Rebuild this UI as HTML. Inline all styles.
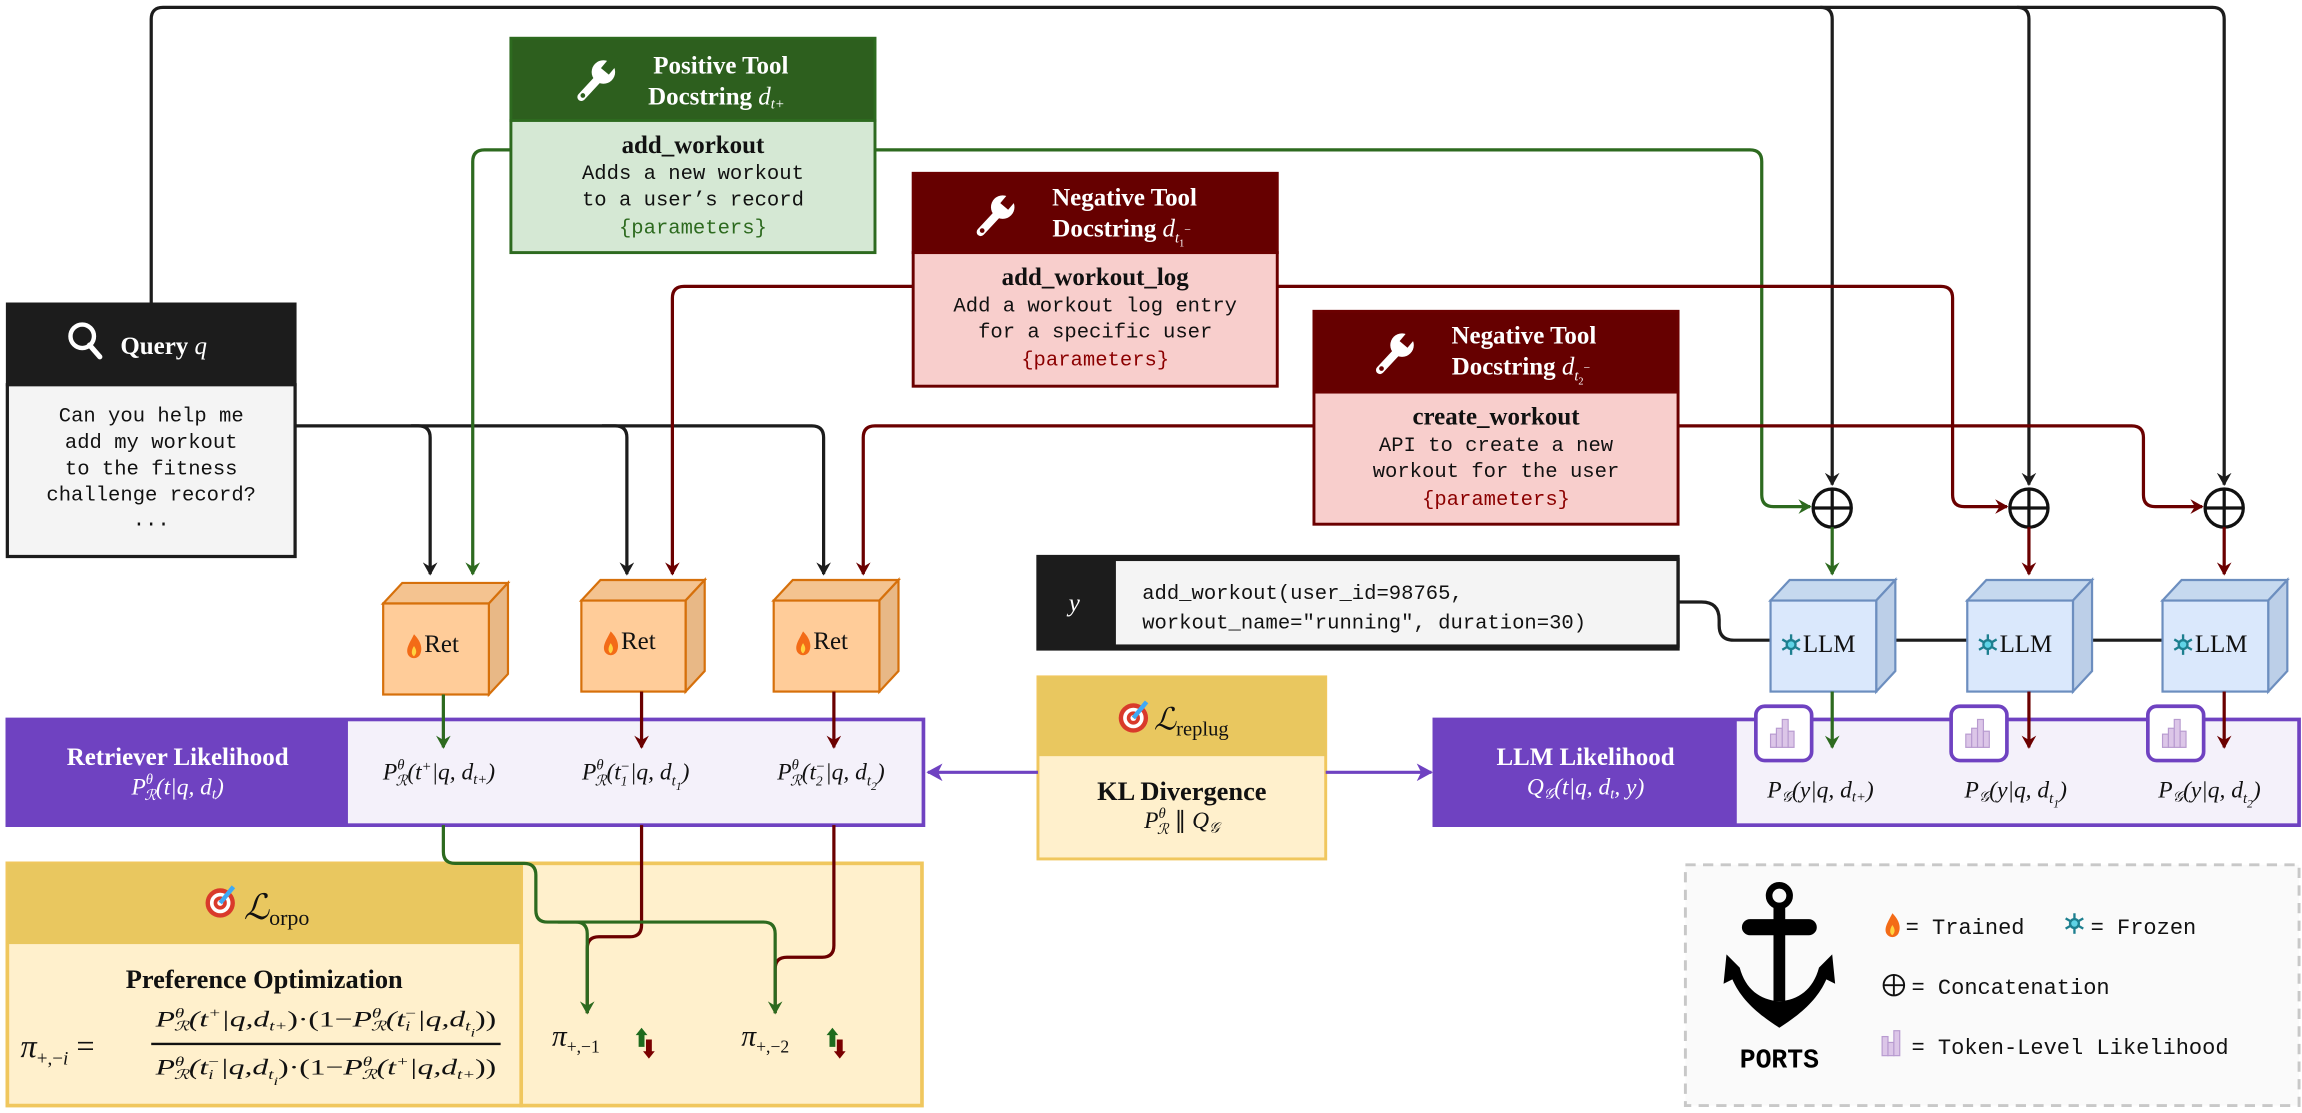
<!DOCTYPE html>
<html><head><meta charset="utf-8"><style>
html,body{margin:0;padding:0;background:#fff;}
svg{display:block;}
.hd{font-family:"Liberation Serif",serif;font-weight:bold;fill:#fff;font-size:17px;}
.mono{font-family:"Liberation Mono",monospace;font-size:14px;fill:#111;}
.bt{font-family:"Liberation Serif",serif;font-weight:bold;font-size:17px;fill:#111;}
.m{font-family:"Liberation Serif",serif;font-style:italic;font-size:16px;fill:#111;}
</style></head><body>
<svg width="2302" height="1113" viewBox="0 0 1568 758" xmlns="http://www.w3.org/2000/svg">
<defs>
<marker id="ak" markerWidth="10" markerHeight="10" refX="8" refY="5" orient="auto" markerUnits="userSpaceOnUse"><path d="M0,0 L9,5 L0,10 L3,5z" fill="#1c1c1c"/></marker>
<marker id="ag" markerWidth="10" markerHeight="10" refX="8" refY="5" orient="auto" markerUnits="userSpaceOnUse"><path d="M0,0 L9,5 L0,10 L3,5z" fill="#2d6a1f"/></marker>
<marker id="ar" markerWidth="10" markerHeight="10" refX="8" refY="5" orient="auto" markerUnits="userSpaceOnUse"><path d="M0,0 L9,5 L0,10 L3,5z" fill="#6b0000"/></marker>
<marker id="ap" markerWidth="12" markerHeight="12" refX="10" refY="6" orient="auto" markerUnits="userSpaceOnUse"><path d="M0,0 L11,6 L0,12 L3,6z" fill="#6f42c1"/></marker>
<g id="wr"><line x1="-10" y1="12" x2="3" y2="-2" stroke="#fff" stroke-width="5.5" stroke-linecap="round"/><circle cx="5" cy="-5" r="8" fill="#fff"/><rect x="2" y="-18" width="7" height="12" fill="currentColor" transform="rotate(40 5 -5)"/><circle cx="-9" cy="11" r="1.6" fill="currentColor"/></g>
<g id="fl"><path d="M0,-8 C5,-3 6,2 4,6 C2,9 -2,9 -4,6 C-6,2 -3,-2 0,-8z" fill="#f36b17"/><path d="M0,0 C2,3 2,5 0,7 C-2,6 -2,3 0,0z" fill="#ffd23f"/></g>
<g id="sf" stroke="#1d7f8f" stroke-width="1.6"><line x1="0" y1="-7" x2="0" y2="7"/><line x1="-6" y1="-3.5" x2="6" y2="3.5"/><line x1="-6" y1="3.5" x2="6" y2="-3.5"/><circle r="3" fill="#5fd3e6"/></g>
<g id="tg"><circle r="10" fill="#d93a2b"/><circle r="7" fill="#fff"/><circle r="4.5" fill="#d93a2b"/><circle r="2" fill="#fff"/><line x1="0" y1="0" x2="9" y2="-11" stroke="#3fa9f5" stroke-width="3"/></g>
<g id="bars"><rect x="-12" y="-15" width="24" height="30" fill="#fff"/><g fill="#dcc6e8" stroke="#b89bd0" stroke-width="0.8"><rect x="-9" y="1" width="4" height="9"/><rect x="-5" y="-3" width="4" height="13"/><rect x="-1" y="-9" width="4" height="19"/><rect x="3" y="-1" width="4" height="11"/></g></g>
</defs>

<g fill="none" stroke="#1c1c1c" stroke-width="2.2">
<path d="M103,207 V13 q0,-8 8,-8 H1507 q8,0 8,8 V330" marker-end="url(#ak)"/>
<path d="M1240,5 q8,0 8,8 V330" marker-end="url(#ak)"/>
<path d="M1374,5 q8,0 8,8 V330" marker-end="url(#ak)"/>
<path d="M201,290 H285 q8,0 8,8 V391" marker-end="url(#ak)"/>
<path d="M280,290 H419 q8,0 8,8 V391" marker-end="url(#ak)"/>
<path d="M410,290 H553 q8,0 8,8 V391" marker-end="url(#ak)"/>
<path d="M1143,410 h16 q12,0 12,12 v4 q0,10 10,10 H1478"/>
</g>
<g fill="none" stroke-width="2.2">
<path d="M348,102 H330 q-8,0 -8,8 V391" stroke="#2d6a1f" marker-end="url(#ag)"/>
<path d="M596,102 H1192 q8,0 8,8 V337 q0,8 8,8 H1233" stroke="#2d6a1f" marker-end="url(#ag)"/>
<path d="M622,195 H466 q-8,0 -8,8 V391" stroke="#6b0000" marker-end="url(#ar)"/>
<path d="M870,195 H1322 q8,0 8,8 V337 q0,8 8,8 H1367" stroke="#6b0000" marker-end="url(#ar)"/>
<path d="M895,290 H596 q-8,0 -8,8 V391" stroke="#6b0000" marker-end="url(#ar)"/>
<path d="M1143,290 H1452 q8,0 8,8 V337 q0,8 8,8 H1500" stroke="#6b0000" marker-end="url(#ar)"/>
</g>

<!-- Positive tool -->
<rect x="348" y="26" width="248" height="56" fill="#2d5f1e" stroke="#2d6a1f" stroke-width="2"/>
<rect x="348" y="82" width="248" height="90" fill="#d5e8d4" stroke="#2d6a1f" stroke-width="2"/>
<use href="#wr" x="406" y="54" color="#2d5f1e"/>
<text class="hd" x="491" y="50" text-anchor="middle">Positive Tool</text>
<text class="hd" x="488" y="71" text-anchor="middle">Docstring <tspan font-style="italic" font-weight="normal">d</tspan><tspan font-size="10" dy="3" font-weight="normal" font-style="italic">t+</tspan></text>
<text class="bt" x="472" y="104" text-anchor="middle">add_workout</text>
<text class="mono" x="472" y="122" text-anchor="middle">Adds a new workout</text>
<text class="mono" x="472" y="140" text-anchor="middle">to a user’s record</text>
<text class="mono" x="472" y="159" text-anchor="middle" style="fill:#2d6a1f">{parameters}</text>

<!-- Neg tool 1 -->
<rect x="622" y="118" width="248" height="54" fill="#660000" stroke="#6b0000" stroke-width="2"/>
<rect x="622" y="172" width="248" height="91" fill="#f8cecc" stroke="#6b0000" stroke-width="2"/>
<use href="#wr" x="678" y="146" color="#660000"/>
<text class="hd" x="766" y="140" text-anchor="middle">Negative Tool</text>
<text class="hd" x="764" y="161" text-anchor="middle">Docstring <tspan font-style="italic" font-weight="normal">d</tspan><tspan font-size="10" dy="4" font-weight="normal" font-style="italic">t</tspan><tspan font-size="7" dy="3" font-weight="normal">1</tspan><tspan font-size="8" dy="-9" font-weight="normal">−</tspan></text>
<text class="bt" x="746" y="194" text-anchor="middle">add_workout_log</text>
<text class="mono" x="746" y="212" text-anchor="middle">Add a workout log entry</text>
<text class="mono" x="746" y="230" text-anchor="middle">for a specific user</text>
<text class="mono" x="746" y="249" text-anchor="middle" style="fill:#8b0000">{parameters}</text>

<!-- Neg tool 2 -->
<rect x="895" y="212" width="248" height="55" fill="#660000" stroke="#6b0000" stroke-width="2"/>
<rect x="895" y="267" width="248" height="90" fill="#f8cecc" stroke="#6b0000" stroke-width="2"/>
<use href="#wr" x="950" y="240" color="#660000"/>
<text class="hd" x="1038" y="234" text-anchor="middle">Negative Tool</text>
<text class="hd" x="1036" y="255" text-anchor="middle">Docstring <tspan font-style="italic" font-weight="normal">d</tspan><tspan font-size="10" dy="4" font-weight="normal" font-style="italic">t</tspan><tspan font-size="7" dy="3" font-weight="normal">2</tspan><tspan font-size="8" dy="-9" font-weight="normal">−</tspan></text>
<text class="bt" x="1019" y="289" text-anchor="middle">create_workout</text>
<text class="mono" x="1019" y="307" text-anchor="middle">API to create a new</text>
<text class="mono" x="1019" y="325" text-anchor="middle">workout for the user</text>
<text class="mono" x="1019" y="344" text-anchor="middle" style="fill:#8b0000">{parameters}</text>

<!-- Query -->
<rect x="5" y="207" width="196" height="55" fill="#1c1c1c" stroke="#1c1c1c" stroke-width="2"/>
<rect x="5" y="262" width="196" height="117" fill="#f4f4f4" stroke="#1c1c1c" stroke-width="2.2"/>
<circle cx="56" cy="229" r="8" fill="none" stroke="#fff" stroke-width="3"/>
<line x1="61" y1="235" x2="68" y2="243" stroke="#fff" stroke-width="3.5" stroke-linecap="round"/>
<text class="hd" x="82" y="241">Query <tspan font-style="italic" font-weight="normal">q</tspan></text>
<text class="mono" x="103" y="287" text-anchor="middle">Can you help me</text>
<text class="mono" x="103" y="305" text-anchor="middle">add my workout</text>
<text class="mono" x="103" y="323" text-anchor="middle">to the fitness</text>
<text class="mono" x="103" y="341" text-anchor="middle">challenge record?</text>
<text class="mono" x="103" y="358" text-anchor="middle">...</text>

<!-- Ret cubes -->
<g stroke="#d6700b" stroke-width="1.5">
<g transform="translate(261,397)"><path d="M0,14 L13,0 H85 L72,14z" fill="#f4c390"/><path d="M72,14 L85,0 V62 L72,76z" fill="#e8b886"/><rect x="0" y="14" width="72" height="62" fill="#ffcc99"/></g>
<g transform="translate(396,395)"><path d="M0,14 L13,0 H84 L71,14z" fill="#f4c390"/><path d="M71,14 L84,0 V62 L71,76z" fill="#e8b886"/><rect x="0" y="14" width="71" height="62" fill="#ffcc99"/></g>
<g transform="translate(527,395)"><path d="M0,14 L13,0 H85 L72,14z" fill="#f4c390"/><path d="M72,14 L85,0 V62 L72,76z" fill="#e8b886"/><rect x="0" y="14" width="72" height="62" fill="#ffcc99"/></g>
</g>
<use href="#fl" x="282" y="440"/><text class="m" x="289" y="444" style="font-style:normal;font-size:17px">Ret</text>
<use href="#fl" x="416" y="438"/><text class="m" x="423" y="442" style="font-style:normal;font-size:17px">Ret</text>
<use href="#fl" x="547" y="438"/><text class="m" x="554" y="442" style="font-style:normal;font-size:17px">Ret</text>

<!-- LLM cubes -->
<g stroke="#6c8ebf" stroke-width="1.5">
<g transform="translate(1206,395)"><path d="M0,14 L13,0 H85 L72,14z" fill="#c6d9ef"/><path d="M72,14 L85,0 V62 L72,76z" fill="#bccfe8"/><rect x="0" y="14" width="72" height="62" fill="#dae8fc"/></g>
<g transform="translate(1340,395)"><path d="M0,14 L13,0 H85 L72,14z" fill="#c6d9ef"/><path d="M72,14 L85,0 V62 L72,76z" fill="#bccfe8"/><rect x="0" y="14" width="72" height="62" fill="#dae8fc"/></g>
<g transform="translate(1473,395)"><path d="M0,14 L13,0 H85 L72,14z" fill="#c6d9ef"/><path d="M72,14 L85,0 V62 L72,76z" fill="#bccfe8"/><rect x="0" y="14" width="72" height="62" fill="#dae8fc"/></g>
</g>
<use href="#sf" x="1220" y="439"/><text class="m" x="1228" y="444" style="font-style:normal;font-size:17px">LLM</text>
<use href="#sf" x="1354" y="439"/><text class="m" x="1362" y="444" style="font-style:normal;font-size:17px">LLM</text>
<use href="#sf" x="1487" y="439"/><text class="m" x="1495" y="444" style="font-style:normal;font-size:17px">LLM</text>

<!-- y box -->
<rect x="707" y="379" width="52" height="63" fill="#1c1c1c"/>
<rect x="759" y="381" width="384" height="59" fill="#f4f4f4" stroke="#1c1c1c" stroke-width="2.2"/>
<rect x="707" y="379" width="436" height="63" fill="none" stroke="#1c1c1c" stroke-width="2.2"/>
<text class="m" x="728" y="416" style="fill:#fff;font-size:17px">y</text>
<text class="mono" x="778" y="408">add_workout(user_id=98765,</text>
<text class="mono" x="778" y="428">workout_name="running", duration=30)</text>

<g fill="#fff" stroke="#111" stroke-width="2.2">
<circle cx="1248" cy="346" r="13"/><circle cx="1382" cy="346" r="13"/><circle cx="1515" cy="346" r="13"/>
</g>
<path d="M1235,346 h26 M1248,333 v26 M1369,346 h26 M1382,333 v26 M1502,346 h26 M1515,333 v26" stroke="#111" stroke-width="2.2"/>

<!-- Retriever likelihood band -->
<rect x="5" y="490" width="624" height="72" fill="#f4f1fa" stroke="#6f42c1" stroke-width="2.5"/>
<rect x="5" y="490" width="232" height="72" fill="#6f42c1"/>
<text class="hd" x="121" y="521" text-anchor="middle">Retriever Likelihood</text>
<text class="m" x="121" y="541" text-anchor="middle" style="fill:#fff">P<tspan font-size="10" dy="-7">θ</tspan><tspan font-size="10" dx="-6" dy="11">ℛ</tspan><tspan dy="-4">(t|q, d</tspan><tspan font-size="10" dy="3">t</tspan><tspan dy="-3">)</tspan></text>
<text class="m" x="299" y="531" text-anchor="middle">P<tspan font-size="10" dy="-7">θ</tspan><tspan font-size="10" dx="-6" dy="11">ℛ</tspan><tspan dy="-4">(t</tspan><tspan font-size="10" dy="-6">+</tspan><tspan dy="6">|q, d</tspan><tspan font-size="10" dy="3">t+</tspan><tspan dy="-3">)</tspan></text>
<text class="m" x="433" y="531" text-anchor="middle">P<tspan font-size="10" dy="-7">θ</tspan><tspan font-size="10" dx="-6" dy="11">ℛ</tspan><tspan dy="-4">(t</tspan><tspan font-size="9" dy="4">1</tspan><tspan font-size="10" dx="-5" dy="-10">−</tspan><tspan dy="6">|q, d</tspan><tspan font-size="10" dy="4">t</tspan><tspan font-size="8" dy="3">1</tspan><tspan dy="-7">)</tspan></text>
<text class="m" x="566" y="531" text-anchor="middle">P<tspan font-size="10" dy="-7">θ</tspan><tspan font-size="10" dx="-6" dy="11">ℛ</tspan><tspan dy="-4">(t</tspan><tspan font-size="9" dy="4">2</tspan><tspan font-size="10" dx="-5" dy="-10">−</tspan><tspan dy="6">|q, d</tspan><tspan font-size="10" dy="4">t</tspan><tspan font-size="8" dy="3">2</tspan><tspan dy="-7">)</tspan></text>

<!-- LLM likelihood band -->
<rect x="977" y="490" width="589" height="72" fill="#f4f1fa" stroke="#6f42c1" stroke-width="2.5"/>
<rect x="977" y="490" width="206" height="72" fill="#6f42c1"/>
<text class="hd" x="1080" y="521" text-anchor="middle">LLM Likelihood</text>
<text class="m" x="1080" y="541" text-anchor="middle" style="fill:#fff">Q<tspan font-size="10" dy="3">𝒢</tspan><tspan dy="-3">(t|q, d</tspan><tspan font-size="10" dy="3">t</tspan><tspan dy="-3">, y)</tspan></text>
<g stroke="#6f42c1" stroke-width="2.5" fill="#fff">
<rect x="1196" y="481" width="38" height="37" rx="6"/><rect x="1329" y="481" width="38" height="37" rx="6"/><rect x="1463" y="481" width="38" height="37" rx="6"/>
</g>
<use href="#bars" x="1215" y="499"/><use href="#bars" x="1348" y="499"/><use href="#bars" x="1482" y="499"/>
<text class="m" x="1240" y="543" text-anchor="middle">P<tspan font-size="10" dy="3">𝒢</tspan><tspan dy="-3">(y|q, d</tspan><tspan font-size="10" dy="3">t+</tspan><tspan dy="-3">)</tspan></text>
<text class="m" x="1373" y="543" text-anchor="middle">P<tspan font-size="10" dy="3">𝒢</tspan><tspan dy="-3">(y|q, d</tspan><tspan font-size="10" dy="4">t</tspan><tspan font-size="8" dy="3">1</tspan><tspan dy="-7">)</tspan></text>
<text class="m" x="1505" y="543" text-anchor="middle">P<tspan font-size="10" dy="3">𝒢</tspan><tspan dy="-3">(y|q, d</tspan><tspan font-size="10" dy="4">t</tspan><tspan font-size="8" dy="3">2</tspan><tspan dy="-7">)</tspan></text>

<g fill="none" stroke-width="2.2">
<path d="M302,473 V509" stroke="#2d6a1f" marker-end="url(#ag)"/>
<path d="M437,471 V509" stroke="#6b0000" marker-end="url(#ar)"/>
<path d="M568,471 V509" stroke="#6b0000" marker-end="url(#ar)"/>
<path d="M1248,359 V391" stroke="#2d6a1f" marker-end="url(#ag)"/>
<path d="M1382,359 V391" stroke="#6b0000" marker-end="url(#ar)"/>
<path d="M1515,359 V391" stroke="#6b0000" marker-end="url(#ar)"/>
<path d="M1248,471 V509" stroke="#2d6a1f" marker-end="url(#ag)"/>
<path d="M1382,471 V509" stroke="#6b0000" marker-end="url(#ar)"/>
<path d="M1515,471 V509" stroke="#6b0000" marker-end="url(#ar)"/>
</g>

<!-- L_replug -->
<rect x="707" y="461" width="196" height="124" fill="#fff0cc" stroke="#f0c75e" stroke-width="2"/>
<rect x="707" y="461" width="196" height="54" fill="#e9c75f"/>
<use href="#tg" x="772" y="489"/>
<text class="m" x="786" y="497" style="font-size:21px">ℒ<tspan font-size="14" dy="4" font-style="normal">replug</tspan></text>
<text class="bt" x="805" y="545" text-anchor="middle" style="font-size:18px">KL Divergence</text>
<text class="m" x="805" y="564" text-anchor="middle">P<tspan font-size="10" dy="-7">θ</tspan><tspan font-size="10" dx="-6" dy="11">ℛ</tspan><tspan dy="-4" font-style="normal"> ∥ </tspan>Q<tspan font-size="10" dy="3">𝒢</tspan></text>
<g fill="none" stroke="#6f42c1" stroke-width="2.2">
<path d="M707,526 H632" marker-end="url(#ap)"/>
<path d="M903,526 H975" marker-end="url(#ap)"/>
</g>

<!-- L_orpo -->
<rect x="355" y="588" width="273" height="165" fill="#fff0cc" stroke="#f0c75e" stroke-width="2.5"/>
<rect x="5" y="588" width="350" height="165" fill="#fff0cc" stroke="#f0c75e" stroke-width="2.5"/>
<rect x="5" y="588" width="350" height="55" fill="#e9c75f"/>
<use href="#tg" x="150" y="615"/>
<text class="m" x="166" y="626" style="font-size:24px">ℒ<tspan font-size="15" dy="4" font-style="normal">orpo</tspan></text>
<text class="bt" x="180" y="673" text-anchor="middle" style="font-size:18px">Preference Optimization</text>
<text class="m" x="14" y="720" style="font-size:22px">π<tspan font-size="13" dy="5" font-style="normal">+,−</tspan><tspan font-size="13">i</tspan><tspan dy="-5" font-style="normal"> = </tspan></text>
<line x1="103" y1="711" x2="341" y2="711" stroke="#111" stroke-width="1.6"/>
<text class="m" x="222" y="699" text-anchor="middle" textLength="232" lengthAdjust="spacingAndGlyphs" style="font-size:15px">P<tspan font-size="9" dy="-6">θ</tspan><tspan font-size="9" dx="-5" dy="9">ℛ</tspan><tspan dy="-3">(t</tspan><tspan font-size="9" dy="-6">+</tspan><tspan dy="6">|q,d</tspan><tspan font-size="9" dy="3">t+</tspan><tspan dy="-3" font-style="normal">)·(1−</tspan>P<tspan font-size="9" dy="-6">θ</tspan><tspan font-size="9" dx="-5" dy="9">ℛ</tspan><tspan dy="-3">(t</tspan><tspan font-size="9" dy="3">i</tspan><tspan font-size="9" dx="-3" dy="-9">−</tspan><tspan dy="6">|q,d</tspan><tspan font-size="9" dy="3">t</tspan><tspan font-size="8" dy="4">i</tspan><tspan dy="-7" font-style="normal">))</tspan></text>
<text class="m" x="222" y="732" text-anchor="middle" textLength="232" lengthAdjust="spacingAndGlyphs" style="font-size:15px">P<tspan font-size="9" dy="-6">θ</tspan><tspan font-size="9" dx="-5" dy="9">ℛ</tspan><tspan dy="-3">(t</tspan><tspan font-size="9" dy="3">i</tspan><tspan font-size="9" dx="-3" dy="-9">−</tspan><tspan dy="6">|q,d</tspan><tspan font-size="9" dy="3">t</tspan><tspan font-size="8" dy="4">i</tspan><tspan dy="-7" font-style="normal">)·(1−</tspan>P<tspan font-size="9" dy="-6">θ</tspan><tspan font-size="9" dx="-5" dy="9">ℛ</tspan><tspan dy="-3">(t</tspan><tspan font-size="9" dy="-6">+</tspan><tspan dy="6">|q,d</tspan><tspan font-size="9" dy="3">t+</tspan><tspan dy="-3" font-style="normal">))</tspan></text>

<g fill="none" stroke-width="2.2">
<path d="M437,562 V630 q0,8 -8,8 H408 q-8,0 -8,8 V690" stroke="#6b0000"/>
<path d="M568,562 V644 q0,8 -8,8 H536 q-8,0 -8,8 V690" stroke="#6b0000"/>
<path d="M302,562 V580 q0,8 8,8 H357 q8,0 8,8 V620 q0,8 8,8 H392 q8,0 8,8 V690" stroke="#2d6a1f" marker-end="url(#ag)"/>
<path d="M380,628 H520 q8,0 8,8 V690" stroke="#2d6a1f" marker-end="url(#ag)"/>
</g>
<text class="m" x="376" y="712" style="font-size:20px">π<tspan font-size="12" dy="5" font-style="normal">+,−1</tspan></text>
<text class="m" x="505" y="712" style="font-size:20px">π<tspan font-size="12" dy="5" font-style="normal">+,−2</tspan></text>
<g><path d="M435,713 v-8 h-2 l4,-5 4,5 h-2 v8z" fill="#1e6b1e"/><path d="M440,708 v8 h-2 l4,5 4,-5 h-2 v-8z" fill="#7a0000"/></g>
<g><path d="M565,713 v-8 h-2 l4,-5 4,5 h-2 v8z" fill="#1e6b1e"/><path d="M570,708 v8 h-2 l4,5 4,-5 h-2 v-8z" fill="#7a0000"/></g>

<!-- legend -->
<rect x="1148" y="589" width="418" height="164" fill="#fafafa" stroke="#c8c8c8" stroke-width="2" stroke-dasharray="7,5"/>
<g fill="#000">
<circle cx="1212" cy="610" r="7" fill="none" stroke="#000" stroke-width="4.5"/>
<rect x="1208" y="616" width="8" height="66"/>
<path d="M1192,626 h40 a5.5,5.5 0 0 1 0,11 h-40 a5.5,5.5 0 0 1 0,-11z"/>
<path d="M1176,650 l9,9 c4,15 14,22 27,23 c13,-1 23,-8 27,-23 l9,-9 l2,20 l-6,-3 c-6,14 -18,24 -32,33 c-14,-9 -26,-19 -32,-33 l-6,3z"/>
</g>
<text x="1212" y="727" text-anchor="middle" style="font-family:'Liberation Mono',monospace;font-weight:bold;font-size:18px">PORTS</text>
<use href="#fl" x="1289" y="630"/>
<text class="mono" x="1298" y="636" style="font-size:15px">= Trained</text>
<use href="#sf" x="1413" y="629"/>
<text class="mono" x="1424" y="636" style="font-size:15px">= Frozen</text>
<circle cx="1290" cy="671" r="7" fill="none" stroke="#111" stroke-width="1.3"/>
<path d="M1283,671 h14 M1290,664 v14" stroke="#111" stroke-width="1.3"/>
<text class="mono" x="1302" y="677" style="font-size:15px">= Concatenation</text>
<g fill="#dcc6e8" stroke="#b89bd0" stroke-width="0.8"><rect x="1282" y="706" width="4" height="13"/><rect x="1286" y="710" width="4" height="9"/><rect x="1290" y="702" width="4" height="17"/></g>
<text class="mono" x="1302" y="718" style="font-size:15px">= Token-Level Likelihood</text>
</svg>
</body></html>
